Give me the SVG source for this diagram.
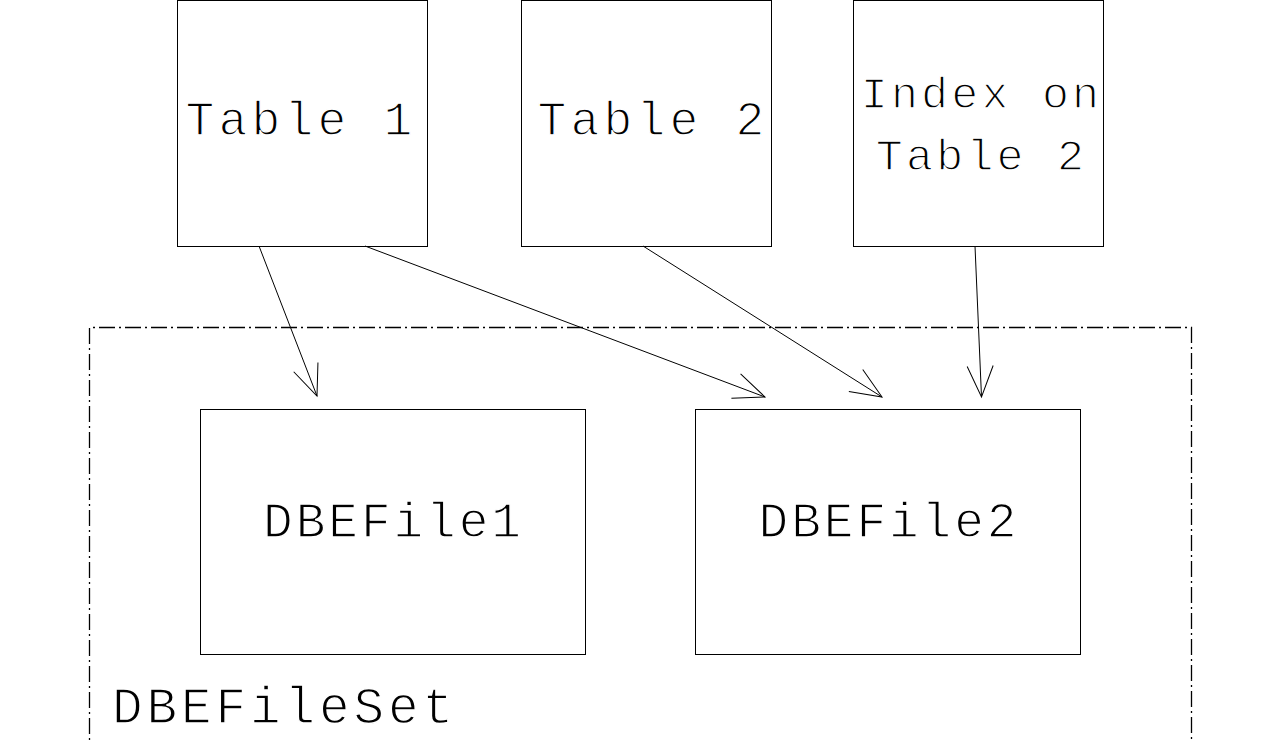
<svg xmlns="http://www.w3.org/2000/svg" width="1280" height="742" viewBox="0 0 1280 742">
<style>
.box{fill:none;stroke:#000;stroke-width:1}
.lbl{font-family:"Liberation Mono","DejaVu Sans Mono",monospace;fill:#000;stroke:#fff;stroke-width:1.4;paint-order:normal;text-anchor:middle}
.t{font-size:48px;letter-spacing:4.2px}
.i{font-size:45px;letter-spacing:3.2px}
.f{font-size:49.5px;letter-spacing:2.9px}
.s{font-size:51px;letter-spacing:3.9px;text-anchor:start}
.conn{fill:none;stroke:#000;stroke-width:1;marker-end:url(#vee)}
.set{fill:none;stroke:#000;stroke-width:1.3;stroke-dasharray:16 4 2 4}
</style>
<defs>
<marker id="vee" markerUnits="userSpaceOnUse" markerWidth="40" markerHeight="40" refX="0" refY="0" viewBox="-35 -20 40 40" orient="auto" overflow="visible">
<path d="M-31,-13 L0,0 L-31,13" fill="none" stroke="#000" stroke-width="1"/>
</marker>
</defs>
<rect width="1280" height="742" fill="#fff"/>
<g id="dbefileset">
<path class="set" d="M89.5,760 V327.5 H1191.5 V760"/>
<text class="lbl s" x="112" y="723">DBEFileSet</text>
</g>
<g id="table1">
<rect class="box" x="177.5" y="0.5" width="250" height="246"/>
<text class="lbl t" x="301" y="135">Table 1</text>
</g>
<g id="table2">
<rect class="box" x="521.5" y="0.5" width="250" height="246"/>
<text class="lbl t" x="653" y="135">Table 2</text>
</g>
<g id="index">
<rect class="box" x="853.5" y="0.5" width="250" height="246"/>
<text class="lbl i" x="981.5" y="108">Index on</text>
<text class="lbl i" x="981.5" y="170">Table 2</text>
</g>
<g id="dbefile1">
<rect class="box" x="200.5" y="409.5" width="385" height="245"/>
<text class="lbl f" x="393.5" y="537">DBEFile1</text>
</g>
<g id="dbefile2">
<rect class="box" x="695.5" y="409.5" width="385" height="245"/>
<text class="lbl f" x="889" y="537">DBEFile2</text>
</g>
<g id="connectors">
<line class="conn" x1="259" y1="246" x2="317" y2="396"/>
<line class="conn" x1="365" y1="246" x2="765" y2="397"/>
<line class="conn" x1="643" y1="246" x2="882" y2="397"/>
<line class="conn" x1="975" y1="246" x2="981.5" y2="397"/>
</g>
</svg>
